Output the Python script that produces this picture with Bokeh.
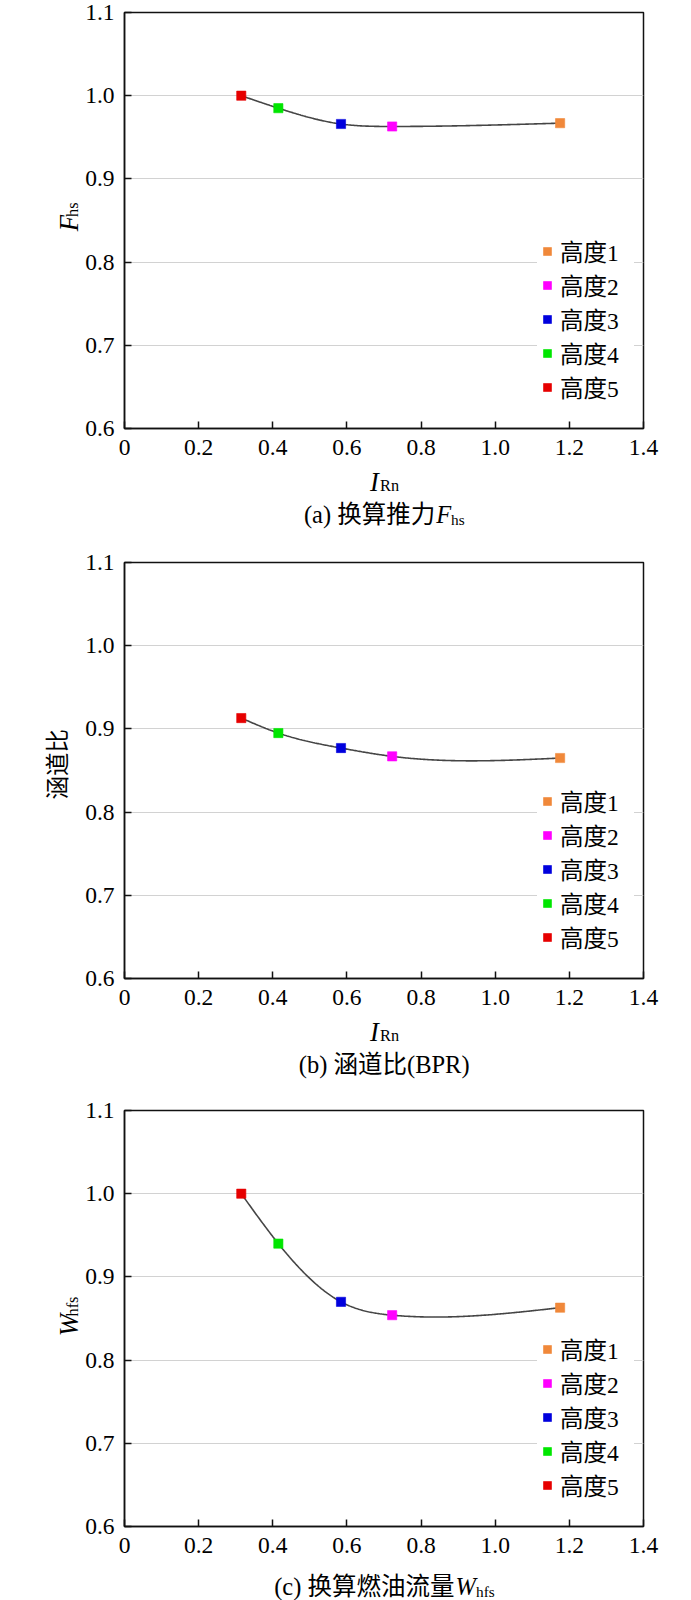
import numpy as np
from bokeh.plotting import figure
from bokeh.models import FixedTicker, Legend, LegendItem
from bokeh.layouts import column, row
from bokeh.embed import file_html
from bokeh.resources import INLINE
from bokeh.core.properties import value

# ---------------- data ----------------
heights = ["高度1", "高度2", "高度3", "高度4", "高度5"]
colors = ["#f0883a", "#ff00ff", "#0000dd", "#00e600", "#e60000"]
i_rn = [1.175, 0.722, 0.584, 0.415, 0.315]
f_hs = [0.967, 0.963, 0.966, 0.985, 1.000]
bpr = [0.865, 0.867, 0.877, 0.895, 0.913]
w_hfs = [0.863, 0.854, 0.870, 0.940, 1.000]

x_ticks = [0, 0.2, 0.4, 0.6, 0.8, 1.0, 1.2, 1.4]
x_tick_labels = ["0", "0.2", "0.4", "0.6", "0.8", "1.0", "1.2", "1.4"]
y_ticks = [0.6, 0.7, 0.8, 0.9, 1.0, 1.1]
y_tick_labels = ["0.6", "0.7", "0.8", "0.9", "1.0", "1.1"]
X0, X1 = 0.0, 1.4
Y0, Y1 = 0.6, 1.1

SERIF = "Liberation Serif"
MIXED = "Liberation Serif, Noto Sans CJK SC"
CJK = "Noto Sans CJK SC"


def smooth(xs, ys, n=300):
    """natural cubic spline through the data points (smooth connecting line)"""
    order = np.argsort(xs)
    x = np.asarray(xs, float)[order]
    y = np.asarray(ys, float)[order]
    k = len(x)
    h = np.diff(x)
    A = np.zeros((k, k))
    b = np.zeros(k)
    A[0, 0] = 1
    A[-1, -1] = 1
    for i in range(1, k - 1):
        A[i, i - 1] = h[i - 1]
        A[i, i] = 2 * (h[i - 1] + h[i])
        A[i, i + 1] = h[i]
        b[i] = 6 * ((y[i + 1] - y[i]) / h[i] - (y[i] - y[i - 1]) / h[i - 1])
    M = np.linalg.solve(A, b)
    xx = np.linspace(x[0], x[-1], n)
    idx = np.clip(np.searchsorted(x, xx) - 1, 0, k - 2)
    x0 = x[idx]
    x1 = x[idx + 1]
    hh = x1 - x0
    t0 = x1 - xx
    t1 = xx - x0
    yy = (M[idx] * t0 ** 3 / (6 * hh) + M[idx + 1] * t1 ** 3 / (6 * hh)
          + (y[idx] / hh - M[idx] * hh / 6) * t0
          + (y[idx + 1] / hh - M[idx + 1] * hh / 6) * t1)
    return xx, yy


W = 668          # total width
SL = 82          # width of the strip holding the y-axis title
FRAME_W = 520
FRAME_H = 416
LEFT = 123       # frame left edge
BOT = 41         # main figure border below the frame (tick labels)


def make_panel(vals, top):
    height = top + FRAME_H + BOT
    mw = W - SL
    p = figure(width=mw, height=height, x_range=(X0, X1), y_range=(Y0, Y1),
               output_backend="svg", toolbar_location=None,
               min_border_left=LEFT - SL, min_border_right=mw - (LEFT - SL) - FRAME_W,
               min_border_top=top, min_border_bottom=BOT)
    p.background_fill_color = "white"
    p.border_fill_color = "white"
    p.outline_line_color = "#111111"
    p.outline_line_width = 1.5
    p.xgrid.visible = False
    p.ygrid.grid_line_color = "#d2d2d2"
    p.ygrid.grid_line_width = 1

    for ax in (p.xaxis[0], p.yaxis[0]):
        ax.axis_line_color = "#111111"
        ax.axis_line_width = 1.5
        ax.major_tick_line_color = "#111111"
        ax.major_tick_line_width = 1.5
        ax.major_tick_in = 7
        ax.major_tick_out = 0
        ax.minor_tick_line_color = None
        ax.major_label_text_font = SERIF
        ax.major_label_text_font_size = "23.5px"
        ax.major_label_text_color = "black"
        ax.axis_label = None
    p.xaxis.ticker = FixedTicker(ticks=x_ticks)
    p.xaxis.major_label_overrides = dict(zip(x_ticks, x_tick_labels))
    p.xaxis.major_label_standoff = 11
    p.yaxis.ticker = FixedTicker(ticks=y_ticks)
    p.yaxis.major_label_overrides = dict(zip(y_ticks, y_tick_labels))
    p.yaxis.major_label_standoff = 10

    xx, yy = smooth(i_rn, vals)
    p.line(xx, yy, line_color="#454545", line_width=1.6)

    items = []
    for name, c, xv, yv in zip(heights, colors, i_rn, vals):
        r = p.scatter([xv], [yv], marker="square", size=9.2,
                      fill_color=c, line_color=c, line_alpha=0.6)
        items.append(LegendItem(label=name, renderers=[r]))

    leg = Legend(items=items, location=(413, 24), orientation="vertical",
                 glyph_width=20, glyph_height=22, label_height=22,
                 label_width=74, label_standoff=3, spacing=-2, padding=5,
                 margin=0, label_text_font=MIXED, label_text_font_size="23.5px",
                 label_text_color="black", background_fill_color="white",
                 background_fill_alpha=1.0, border_line_color=None)
    p.add_layout(leg)
    return p, height


def strip(width, height):
    """blank text strip; its data units are pixels (y upward)"""
    s = figure(width=width, height=height, x_range=(0, width), y_range=(0, height),
               output_backend="svg", toolbar_location=None, min_border=0,
               x_axis_location=None, y_axis_location=None)
    s.xgrid.visible = False
    s.ygrid.visible = False
    s.outline_line_color = None
    s.background_fill_color = "white"
    s.border_fill_color = "white"
    return s


def txt(s, h, x, y_down, text, size, font=SERIF, style="normal", align="left",
        baseline="alphabetic", angle=0.0):
    s.text(x=[x], y=[h - y_down], text=[text], text_font=value(font),
           text_font_size=value(f"{size}px"), text_font_style=style,
           text_align=align, text_baseline=baseline, angle=angle,
           text_color="black")


def caption_strip(h, pieces, dy=0.0):
    s = strip(W, h)
    # x-axis title  I_Rn
    txt(s, h, 369.4, 12 + dy, "I", 26.5, style="italic")
    txt(s, h, 379.6, 16.2 + dy, "Rn", 16.3)
    for (x, y, t, size), kw in pieces:
        txt(s, h, x, y + dy, t, size, **kw)
    return s


# ---------------- panel (a) ----------------
m1, h1 = make_panel(f_hs, 12)
y1 = strip(SL, h1)
txt(y1, h1, 68.4, 246.7, "F", 26.5, style="italic", angle=np.pi / 2)
txt(y1, h1, 72.4, 230.5, "hs", 16.3, angle=np.pi / 2)
c1 = caption_strip(84, [
    ((434.7, 45, "(a) 换算推力", 24.5), dict(font=MIXED, align="right")),
    ((435.7, 45, "F", 24.5), dict(style="italic")),
    ((450.5, 49.5, "hs", 15.3), {}),
])

# ---------------- panel (b) ----------------
m2, h2 = make_panel(bpr, 9)
y2 = strip(SL, h2)
txt(y2, h2, 55, 226, "涵道比", 23.5, font=CJK, align="center",
    baseline="middle", angle=np.pi / 2)
c2 = caption_strip(82, [
    ((383.7, 45, "(b) 涵道比(BPR)", 24.5), dict(font=MIXED, align="center")),
])

# ---------------- panel (c) ----------------
m3, h3 = make_panel(w_hfs, 9)
y3 = strip(SL, h3)
txt(y3, h3, 68.4, 252.8, "W", 26.5, style="italic", angle=np.pi / 2)
txt(y3, h3, 72.4, 230.7, "hfs", 16.3, angle=np.pi / 2)
c3 = caption_strip(84, [
    ((454, 45, "(c) 换算燃油流量", 24.5), dict(font=MIXED, align="right")),
    ((455, 45, "W", 24.5), dict(style="italic")),
    ((475.5, 49.5, "hfs", 15.3), {}),
], dy=-26)

layout = column(row(y1, m1, spacing=0), c1,
                row(y2, m2, spacing=0), c2,
                row(y3, m3, spacing=0), c3, spacing=0)
open("out.html", "w").write(file_html(layout, INLINE))
